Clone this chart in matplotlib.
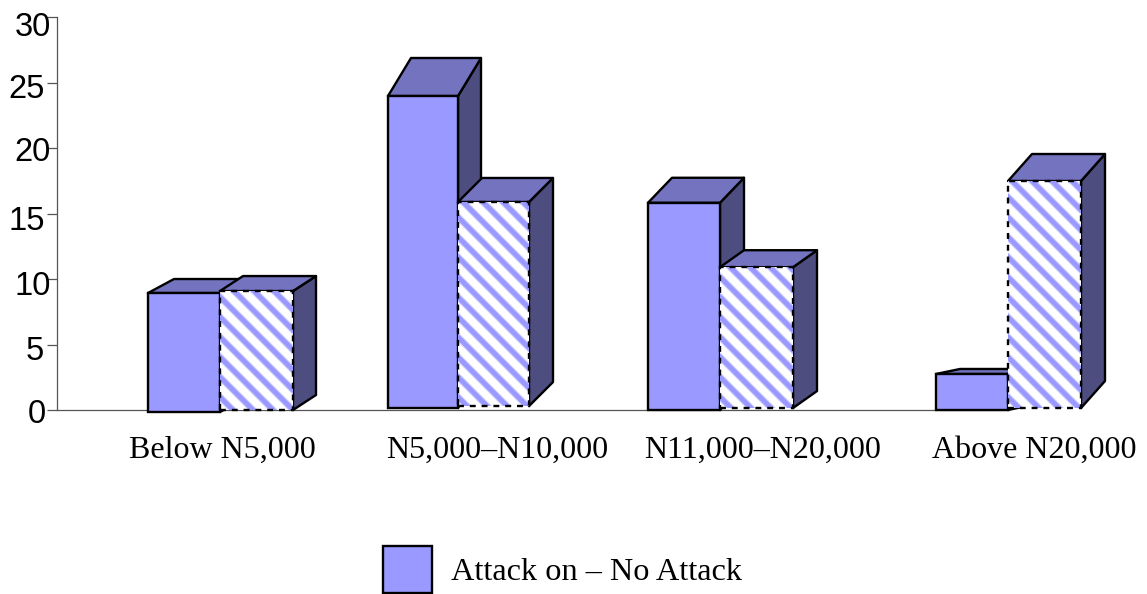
import matplotlib
matplotlib.use("Agg")
import matplotlib.pyplot as plt
from matplotlib.patches import Polygon
from matplotlib.transforms import ScaledTranslation

# Data
categories = ["Below N5,000", "N5,000\u2013N10,000", "N11,000\u2013N20,000", "Above N20,000"]
solid_tops = [8.93, 23.97, 15.82, 2.75]
solid_bases = [-0.15, 0.15, 0.0, 0.0]
striped_tops = [9.08, 15.88, 10.9, 17.48]
striped_bases = [0.0, 0.3, 0.15, 0.15]
y_ticks = [0, 5, 10, 15, 20, 25, 30]
legend_label = "Attack on \u2013 No Attack"

# Layout, in pixels
W, H = 1147, 594
X0, Y0, Y30 = 57, 410, 17
PPU = (Y0 - Y30) / 30
solid_left = [148, 388, 648, 936]
solid_width = [72, 70, 72, 72]
striped_left = [220, 458, 720, 1008]
striped_width = [73, 71, 73, 73]
solid_depth = [(26, 14), (23, 38), (24, 25), (24, 5)]
striped_depth = [(23, 15), (24, 24), (24, 17), (24, 27)]
label_x = [222, 497, 763, 1034]
# y tick labels are not lined up in the original
tick_shift = [(-1, -1), (-3, -3), (4, -4), (-2, -5), (4, -1), (-2, -3), (4, -7)]

BLUE = "#9999ff"
PALE = "#ccccff"
TOP = "#7373bf"
SIDE = "#4d4d80"
LW = 1.7

plt.rcParams["font.family"] = ["Liberation Sans", "DejaVu Sans"]
fig = plt.figure(figsize=(W / 100, H / 100), dpi=100)
ax = fig.add_axes([X0 / W, (H - Y0) / H, (W - X0) / W, (Y0 - Y30) / H])
ax.set_xlim(X0, W)
ax.set_ylim(0, 30)
ax.patch.set_visible(False)


def box_faces(left, width, top, base, depth, z):
    dx, dy = depth[0], depth[1] / PPU
    side = [(left + width, top), (left + width + dx, top + dy),
            (left + width + dx, base + dy), (left + width, base)]
    roof = [(left, top), (left + dx, top + dy), (left + width + dx, top + dy), (left + width, top)]
    for pts, col in ((side, SIDE), (roof, TOP)):
        ax.add_patch(Polygon(pts, closed=True, facecolor=col, edgecolor="black",
                             linewidth=LW, zorder=z, clip_on=False, joinstyle="round"))


z = 3
for i in range(len(categories)):
    # solid bar
    box_faces(solid_left[i], solid_width[i], solid_tops[i], solid_bases[i], solid_depth[i], z)
    solid = ax.bar(solid_left[i], solid_tops[i] - solid_bases[i], solid_width[i], bottom=solid_bases[i],
                   align="edge", color=BLUE, edgecolor="black", linewidth=LW, zorder=z + 1, clip_on=False)
    if i == 0:
        legend_bar = solid

    # striped bar, pale line under the stripe gives the soft edge
    box_faces(striped_left[i], striped_width[i], striped_tops[i], striped_bases[i], striped_depth[i], z + 2)
    back = ax.bar(striped_left[i], striped_tops[i] - striped_bases[i], striped_width[i], bottom=striped_bases[i],
                  align="edge", color="white", linewidth=0, zorder=z + 3, clip_on=False)[0]
    for c in range(striped_left[i] - 400, striped_left[i] + 400, 20):
        for lw, col, zz in ((5.0, PALE, z + 3.5), (3.4, BLUE, z + 4)):
            line, = ax.plot([c, c + 400], [30, 30 - 400 / PPU], color=col, linewidth=lw,
                            zorder=zz, solid_capstyle="butt")
            line.set_clip_path(back)
    ax.bar(striped_left[i], striped_tops[i] - striped_bases[i], striped_width[i], bottom=striped_bases[i],
           align="edge", facecolor="none", edgecolor="black", linewidth=LW, linestyle=(0, (2.5, 2.5)),
           zorder=z + 5, clip_on=False)
    z += 6

    ax.text(label_x[i], -3.05, categories[i], family=["Liberation Serif", "DejaVu Serif"], fontsize=23,
            ha="center", va="center", color="black")

# axes
for s in ("top", "right"):
    ax.spines[s].set_visible(False)
for s in ("left", "bottom"):
    ax.spines[s].set_color("#555555")
    ax.spines[s].set_linewidth(0.9)
ax.spines["bottom"].set_bounds(X0, 1008)
ax.set_xticks([])
ax.set_yticks(y_ticks)
ax.set_yticklabels([str(v) for v in y_ticks], fontsize=23.5)
ax.tick_params(axis="y", length=7.2, width=0.9, color="#555555", pad=0, labelcolor="black")
for lab, (sx, sy) in zip(ax.get_yticklabels(), tick_shift):
    lab.set_transform(lab.get_transform() + ScaledTranslation(sx / 100, sy / 100, fig.dpi_scale_trans))

# legend
leg = fig.legend([legend_bar], [legend_label], loc="center", bbox_to_anchor=(562.5 / W, 1 - 569.5 / H),
                 frameon=False, handlelength=1.52, handleheight=1.83, handletextpad=0.59,
                 borderpad=0, borderaxespad=0,
                 prop={"family": ["Liberation Serif", "DejaVu Serif"], "size": 23.2})

fig.savefig("out.png", dpi=100)
